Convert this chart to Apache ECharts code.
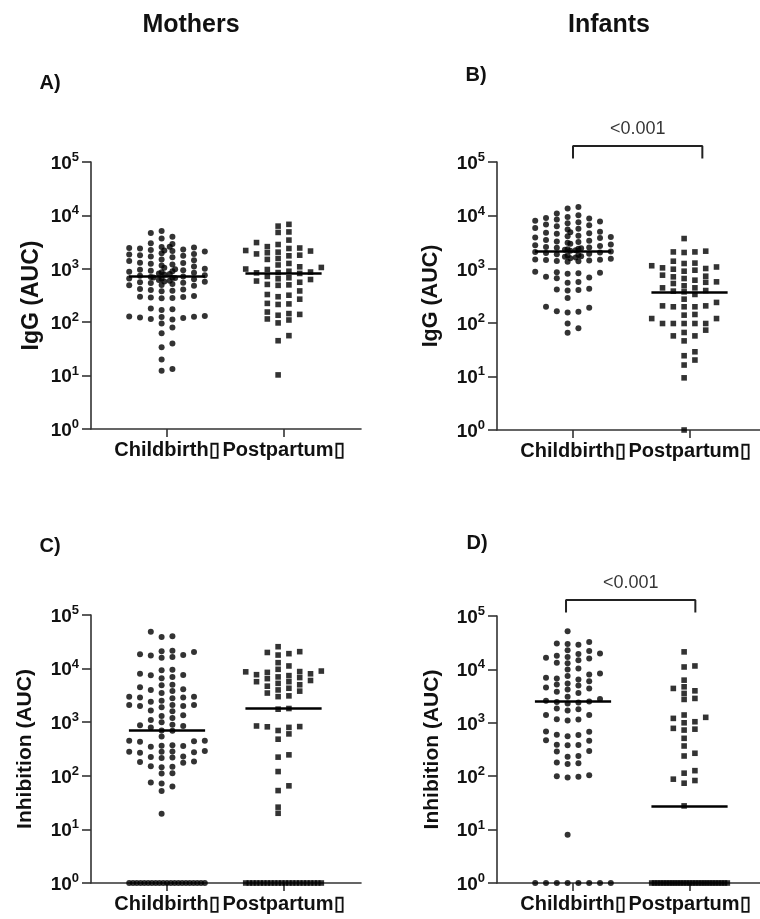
<!DOCTYPE html>
<html>
<head>
<meta charset="utf-8">
<script src="https://cdn.jsdelivr.net/npm/echarts@6/dist/echarts.min.js"></script>
<style>
html, body { margin: 0; padding: 0; background: #fff; }
#main { width: 760px; height: 919px; }
</style>
</head>
<body>
<div id="main"></div>
<script>
// categories and tick values
var categories = ['Childbirth\u25AF', 'Postpartum\u25AF'];
var yTicks = [1, 10, 100, 1000, 10000, 100000];

// A) Mothers IgG
var motherIgGChildbirth = [5100, 4700, 4000, 3700, 3000, 2900,
  2600, 2550, 2500, 2450, 2400, 2300, 2250, 2200, 2150, 2100,
  1950, 1900, 1850, 1800, 1750, 1700, 1650,
  1500, 1450, 1400, 1300, 1280, 1250, 1200, 1150, 1100, 1050,
  1000, 980, 960, 940, 920, 900, 880, 860, 840, 820, 800, 780,
  760, 740, 720, 700, 690, 680, 670, 660, 650, 640, 620, 600,
  580, 570, 560, 550, 540, 520, 500, 490, 480,
  420, 410, 400, 390, 380, 310, 300, 295, 290, 285, 280,
  180, 175, 170, 130, 128, 126, 125, 122, 120, 115, 112,
  95, 80, 62, 40, 34, 20, 13.3, 12.3];
var motherIgGPostpartum = [6800, 6300, 4900, 4800, 3450, 3100, 2850, 2600, 2450, 2400,
  2200, 2150, 2050, 2000, 1900, 1800, 1750, 1560, 1500, 1260,
  1180, 1090, 1060, 990, 970, 900, 870, 850, 840, 820,
  720, 680, 650, 630, 590, 560, 510, 500, 490, 385,
  330, 320, 300, 270, 225, 220, 215, 155, 145, 140,
  135, 115, 110, 97, 56, 45, 10.3];
var mediansA = [731, 843];

// B) Infants IgG
var infantIgGChildbirth = [14500, 13500, 11000, 10200, 9400, 9000, 8800, 8500, 8000, 7800,
  7500, 7200, 6800, 6600, 6300, 5900, 5700, 5500, 5000, 4900,
  4800, 4700, 4600, 4200, 4100, 4000, 3900, 3800, 3500, 3400,
  3300, 3200, 3100, 3000, 2900, 2800, 2700, 2600, 2550, 2500,
  2450, 2400, 2350, 2300, 2250, 2200, 2150, 2100, 2050, 2000,
  1950, 1900, 1850, 1800, 1750, 1700, 1650, 1600, 1560, 1520,
  1500, 1480, 1450, 1420, 1400, 1380,
  900, 880, 860, 840, 820, 720, 700, 680, 580, 560,
  430, 420, 410, 400, 290, 200, 190, 165, 160, 156, 97, 79, 65];
var infantIgGPostpartum = [3730, 2170, 2100, 2100, 2050, 1410, 1300, 1277, 1160, 1100,
  1060, 1030, 1000, 959, 918, 774, 740, 720, 670, 624,
  581, 570, 541, 490, 449, 449, 400, 390, 378, 338,
  276, 240, 207, 207, 199, 199, 199, 143, 139, 120,
  120, 97, 97, 97, 97, 97, 73, 66, 57, 57,
  46, 28.8, 24.3, 20.2, 16.3, 9.4, 1];
var mediansB = [2193, 368];

// C) Mothers inhibition
var motherInhChildbirth = [48800, 40000, 39000, 21500, 21000, 20500, 18500, 17900, 17500, 16500,
  16000, 9500, 9300, 8000, 7600, 7500, 7000, 6600, 5000, 4900,
  4500, 4100, 4000, 3800, 3500, 3000, 3000, 2900, 2900, 2800,
  2500, 2400, 2100, 2100, 2100, 2000, 2000, 1900, 1650, 1600,
  1350, 1300, 1200, 1100, 1000, 900, 880, 850, 800,
  700, 690, 540, 450, 450, 440, 430, 370, 365, 360,
  350, 290, 285, 280, 280, 275, 270, 230, 225, 220,
  215, 185, 180, 175, 150, 148, 145, 112, 110, 75,
  72, 63, 52, 19.6,
  1, 1, 1, 1, 1, 1, 1, 1, 1, 1, 1, 1, 1, 1, 1, 1, 1, 1, 1, 1, 1];
var motherInhPostpartum = [25600, 20700, 20000, 19000, 17900, 12900, 11200, 9700, 9000, 8800,
  8700, 8500, 8000, 7700, 7400, 7000, 6800, 6500, 6000, 5700,
  5700, 5300, 5000, 4700, 4300, 4000, 3800, 3500, 3100, 3000,
  1800, 1750, 850, 828, 820, 800, 700, 605, 482, 246,
  223, 120, 65, 53, 26, 20,
  1, 1, 1, 1, 1, 1, 1, 1, 1, 1, 1, 1, 1, 1, 1, 1, 1, 1, 1, 1, 1, 1];
var mediansC = [719, 1823];

// D) Infants inhibition
var infantInhChildbirth = [51800, 32700, 30500, 30000, 29000, 22900, 22000, 19800, 19500, 18000,
  17100, 16500, 16000, 14900, 13300, 13000, 10400, 10000, 8390, 8000,
  7500, 7000, 6760, 6500, 6000, 5450, 5200, 5000, 4600, 4390,
  4200, 3800, 3600, 3070, 2800, 2600,
  2500, 2450, 2400, 2300, 1860, 1800, 1700, 1400, 1395, 1160,
  1150, 1100, 690, 680, 600, 590, 560, 470, 462, 390,
  384, 380, 297, 290, 240, 232, 180, 175, 170, 104,
  100, 98, 95, 8,
  1, 1, 1, 1, 1, 1, 1, 1];
var infantInhPostpartum = [21300, 11600, 11100, 6290, 4720, 4400, 3970, 3550, 2860, 2740,
  1400, 1265, 1210, 1047, 1000, 787, 760, 731, 512, 368,
  269, 239, 127, 114, 88, 83, 74, 27.8,
  1, 1, 1, 1, 1, 1, 1, 1, 1, 1, 1, 1, 1, 1, 1, 1, 1, 1, 1, 1, 1, 1, 1, 1, 1, 1, 1];
var mediansD = [2548, 27];

var FONT = 'Liberation Sans, Arial, sans-serif';
var X_MIN = -0.6524, X_MAX = 1.665;
var AXIS_COLOR = '#333';

var panels = [
  { grid: { left: 91, top: 162, width: 270, height: 267 }, data: [motherIgGChildbirth, motherIgGPostpartum], medians: mediansA, name: 'IgG (AUC)', nameGap: 48, nameSize: 23 },
  { grid: { left: 497, top: 162, width: 270, height: 268 }, data: [infantIgGChildbirth, infantIgGPostpartum], medians: mediansB, name: 'IgG (AUC)', nameGap: 55, nameSize: 21.5, bracket: [0, 1.11], pText: '<0.001' },
  { grid: { left: 91, top: 615, width: 270, height: 268 }, data: [motherInhChildbirth, motherInhPostpartum], medians: mediansC, name: 'Inhibition (AUC)', nameGap: 55, nameSize: 21 },
  { grid: { left: 497, top: 616, width: 270, height: 267 }, data: [infantInhChildbirth, infantInhPostpartum], medians: mediansD, name: 'Inhibition (AUC)', nameGap: 54, nameSize: 21, bracket: [-0.06, 1.05], pText: '<0.001' }
];

// Prism-like scatter: points go into columns of fixed spacing, stacking vertically;
// long runs of tied values are spread evenly over the full column width
function swarm(values, cat, grid) {
  var pxPerUnit = grid.width / (X_MAX - X_MIN);
  var pxPerDecade = grid.height / 5;
  var slot = 10.8, h = 6, maxOff = 3.5;
  var levels = [1, 2, 4, 8];
  var sorted = values.slice().sort(function (a, b) { return a - b; });
  var counts = {};
  sorted.forEach(function (v) { counts[v] = (counts[v] || 0) + 1; });
  var used = {};
  var placed = [];
  var out = [];
  sorted.forEach(function (v) {
    var y = Math.log10(v) * pxPerDecade;
    var chosen = null;
    if (counts[v] >= 8) {
      var idx = used[v] || 0;
      used[v] = idx + 1;
      chosen = -maxOff + idx * (2 * maxOff) / (counts[v] - 1);
      placed.push({ off: chosen, y: y });
      out.push([cat + chosen * slot / pxPerUnit, v]);
      return;
    }
    for (var li = 0; li < levels.length && chosen === null; li++) {
      var lv = levels[li];
      var cands = [];
      for (var k = -maxOff * lv; k <= maxOff * lv; k++) {
        var off = k / lv;
        if (li > 0 && Math.abs(off * levels[li - 1] - Math.round(off * levels[li - 1])) < 1e-9) continue;
        if (li === 0 && Math.abs(off) > 3) continue;
        cands.push(off);
      }
      cands.sort(function (a, b) { return Math.abs(a) - Math.abs(b) || a - b; });
      for (var c = 0; c < cands.length; c++) {
        var ok = true;
        for (var p = 0; p < placed.length; p++) {
          if (Math.abs(placed[p].off - cands[c]) < 1e-9 && Math.abs(placed[p].y - y) < h) { ok = false; break; }
        }
        if (ok) { chosen = cands[c]; break; }
      }
    }
    if (chosen === null) chosen = 0;
    placed.push({ off: chosen, y: y });
    out.push([cat + chosen * slot / pxPerUnit, v]);
  });
  return out;
}

var grids = [], xAxes = [], yAxes = [], series = [];
panels.forEach(function (pn, i) {
  var g = pn.grid;
  grids.push({ left: g.left, top: g.top, width: g.width, height: g.height, outerBoundsMode: 'none', containLabel: false });
  xAxes.push({
    type: 'value', gridIndex: i, min: X_MIN, max: X_MAX,
    splitLine: { show: false },
    axisLine: { onZero: false, lineStyle: { color: AXIS_COLOR, width: 1.6 } },
    axisTick: { show: true, length: 8, customValues: [0, 1], lineStyle: { color: AXIS_COLOR, width: 1.6 } },
    axisLabel: {
      customValues: [0, 1], margin: 11,
      showMinLabel: true, showMaxLabel: true, hideOverlap: false,
      formatter: function (v) { return categories[Math.round(v)]; },
      fontSize: 20, fontWeight: 'bold', fontFamily: FONT, color: '#111'
    }
  });
  yAxes.push({
    type: 'log', logBase: 10, gridIndex: i, min: 1, max: 100000,
    name: pn.name, nameLocation: 'middle', nameGap: pn.nameGap,
    nameTextStyle: { fontSize: pn.nameSize, fontWeight: 'bold', fontFamily: FONT, color: '#111' },
    splitLine: { show: false },
    axisLine: { onZero: false, lineStyle: { color: AXIS_COLOR, width: 1.6 } },
    axisTick: { length: 9, lineStyle: { color: AXIS_COLOR, width: 1.6 } },
    axisLabel: {
      margin: 12,
      customValues: yTicks,
      showMinLabel: true, showMaxLabel: true,
      formatter: function (v) { return '{b|10}{s|' + Math.round(Math.log10(v)) + '}'; },
      rich: {
        b: { fontSize: 19, fontWeight: 'bold', fontFamily: FONT, color: '#111', verticalAlign: 'bottom', lineHeight: 22 },
        s: { fontSize: 13, fontWeight: 'bold', fontFamily: FONT, color: '#111', verticalAlign: 'top', lineHeight: 13 }
      }
    }
  });
  pn.data.forEach(function (vals, c) {
    var m = pn.medians[c];
    series.push({
      type: 'scatter', xAxisIndex: i, yAxisIndex: i,
      symbol: c === 0 ? 'circle' : 'rect',
      symbolSize: c === 0 ? 6 : 5.6,
      itemStyle: { color: '#000' },
      silent: true,
      data: swarm(vals, c, pn.grid),
      markLine: {
        silent: true, symbol: 'none', animation: false,
        label: { show: false },
        lineStyle: { color: '#000', width: 2.6, type: 'solid' },
        data: [[{ coord: [c - 0.327, m] }, { coord: [c + 0.327, m] }]]
      }
    });
  });
  if (pn.bracket) {
    var pxPerDecade = pn.grid.height / 5;
    var topV = 100000 * Math.pow(10, 16 / pxPerDecade);
    var legV = 100000 * Math.pow(10, 3.5 / pxPerDecade);
    var txtV = 100000 * Math.pow(10, 33 / pxPerDecade);
    series.push({
      type: 'line', xAxisIndex: i, yAxisIndex: i, clip: false, silent: true,
      symbol: 'none', lineStyle: { color: '#222', width: 2 },
      data: [[pn.bracket[0], legV], [pn.bracket[0], topV], [pn.bracket[1], topV], [pn.bracket[1], legV]]
    });
    series.push({
      type: 'scatter', xAxisIndex: i, yAxisIndex: i, clip: false, silent: true,
      symbolSize: 0,
      label: { show: true, position: 'inside', formatter: pn.pText, fontSize: 18, fontFamily: FONT, color: '#000' },
      data: [[(pn.bracket[0] + pn.bracket[1]) / 2, txtV]]
    });
  }
});

function txt(t, x, y, size) {
  return { type: 'text', x: x, y: y, style: { text: t, font: 'bold ' + size + 'px ' + FONT, fill: '#111', align: 'center', verticalAlign: 'middle' } };
}

var option = {
  animation: false,
  backgroundColor: '#fff',
  grid: grids,
  xAxis: xAxes,
  yAxis: yAxes,
  series: series,
  graphic: [
    txt('Mothers', 191, 25, 25),
    txt('Infants', 609, 25, 25),
    txt('A)', 50, 83, 20),
    txt('B)', 476, 75, 20),
    txt('C)', 50, 546, 20),
    txt('D)', 477, 543, 20)
  ]
};

var myChart = echarts.init(document.getElementById('main'));
myChart.setOption(option);
</script>
</body>
</html>
